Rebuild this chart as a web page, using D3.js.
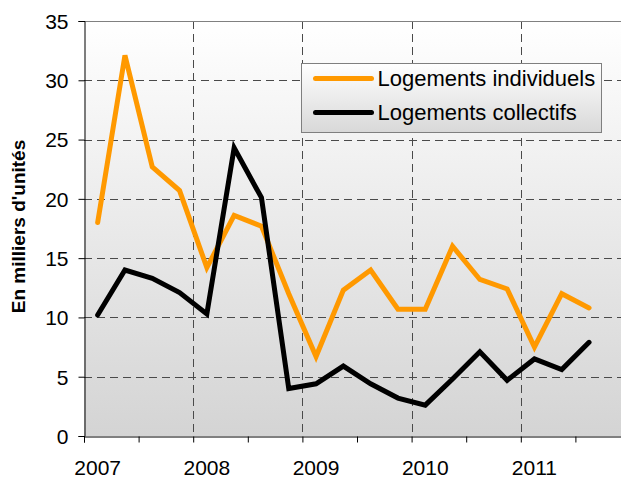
<!DOCTYPE html>
<html>
<head>
<meta charset="utf-8">
<script src="https://cdn.jsdelivr.net/npm/d3@7"></script>
<style>
  body { margin: 0; background: #fff; }
  text { font-family: Arial, "Liberation Sans", sans-serif; fill: #000; }
</style>
</head>
<body>
<div id="chart"></div>
<script>
'use strict';

var quarters = [
  "2007T1", "2007T2", "2007T3", "2007T4",
  "2008T1", "2008T2", "2008T3", "2008T4",
  "2009T1", "2009T2", "2009T3", "2009T4",
  "2010T1", "2010T2", "2010T3", "2010T4",
  "2011T1", "2011T2", "2011T3", "2011T4"
];
var years = ["2007", "2008", "2009", "2010", "2011"];
var individuels = [18.0, 32.1, 22.7, 20.7, 14.2, 18.6, 17.7, 12.0, 6.7, 12.3,
                   14.0, 10.7, 10.7, 16.0, 13.2, 12.4, 7.5, 12.0, 10.8];
var collectifs = [10.2, 14.0, 13.3, 12.1, 10.3, 24.3, 20.1, 4.0, 4.4, 5.9,
                  4.4, 3.2, 2.6, 4.8, 7.1, 4.7, 6.5, 5.6, 7.9];
var yTicks = [0, 5, 10, 15, 20, 25, 30, 35];
var seriesNames = ["Logements individuels", "Logements collectifs"];
var seriesColors = ["#ff9900", "#000000"];

var svgWidth = 621, svgHeight = 479;
var plot = { left: 84, right: 630, top: 21, bottom: 436 };

var svg = d3.select("#chart").append("svg")
  .attr("width", svgWidth)
  .attr("height", svgHeight);

var defs = svg.append("defs");
var bg = defs.append("linearGradient").attr("id", "bg")
  .attr("x1", 0).attr("y1", 0).attr("x2", 0).attr("y2", 1);
bg.append("stop").attr("offset", "0%").attr("stop-color", "#ffffff");
bg.append("stop").attr("offset", "100%").attr("stop-color", "#d4d4d4");

var lg = defs.append("linearGradient").attr("id", "lg")
  .attr("x1", 0).attr("y1", 0).attr("x2", 0).attr("y2", 1);
lg.append("stop").attr("offset", "0%").attr("stop-color", "#ffffff");
lg.append("stop").attr("offset", "100%").attr("stop-color", "#d8d8d8");

var x = d3.scaleBand().domain(quarters).range([plot.left, plot.right]);
var xIdx = d3.scaleLinear().domain([0, quarters.length]).range([plot.left, plot.right]);
var y = d3.scaleLinear().domain([0, 35]).range([plot.bottom, plot.top]);

// plot background
svg.append("rect")
  .attr("x", plot.left).attr("y", plot.top)
  .attr("width", plot.right - plot.left).attr("height", plot.bottom - plot.top)
  .attr("fill", "url(#bg)");

// horizontal grid
svg.append("g").selectAll("line")
  .data(yTicks.filter(function(d) { return d > 0 && d < 35; }))
  .join("line")
  .attr("x1", plot.left).attr("x2", plot.right)
  .attr("y1", function(d) { return Math.round(y(d)) + 0.5; })
  .attr("y2", function(d) { return Math.round(y(d)) + 0.5; })
  .attr("stroke", "#4a4a4a")
  .attr("stroke-dasharray", "8,5");

// vertical grid at year boundaries
svg.append("g").selectAll("line")
  .data([4, 8, 12, 16])
  .join("line")
  .attr("x1", function(d) { return Math.round(xIdx(d)) + 0.5; })
  .attr("x2", function(d) { return Math.round(xIdx(d)) + 0.5; })
  .attr("y1", plot.top).attr("y2", plot.bottom)
  .attr("stroke", "#4a4a4a")
  .attr("stroke-dasharray", "8,5");

// top border
svg.append("line")
  .attr("x1", plot.left).attr("x2", plot.right)
  .attr("y1", plot.top + 0.5).attr("y2", plot.top + 0.5)
  .attr("stroke", "#808080");

// y axis
var yAxisG = svg.append("g")
  .attr("transform", "translate(" + (plot.left + 0.5) + ",0)")
  .call(d3.axisLeft(y).tickValues(yTicks).tickSize(6).tickPadding(10));
yAxisG.select(".domain").attr("stroke", "#000");
yAxisG.selectAll("text")
  .style("font-size", "21px")
  .attr("dy", "0.35em");

// x axis
var xAxisG = svg.append("g")
  .attr("transform", "translate(0," + (plot.bottom + 0.5) + ")")
  .call(d3.axisBottom(xIdx)
    .tickValues(d3.range(0, quarters.length + 1, 2))
    .tickFormat("")
    .tickSize(6));
xAxisG.select(".domain").attr("stroke", "#000");

svg.append("g").selectAll("text")
  .data(years)
  .join("text")
  .attr("x", function(d) { return x(d + "T1") + x.bandwidth() / 2; })
  .attr("y", 475)
  .attr("text-anchor", "middle")
  .style("font-size", "21px")
  .text(function(d) { return d; });

// y title
svg.append("text")
  .attr("transform", "translate(25," + ((plot.top + plot.bottom) / 2 - 2) + ") rotate(-90)")
  .attr("text-anchor", "middle")
  .style("font-size", "19px")
  .style("font-weight", "bold")
  .text("En milliers d'unités");

// series lines
var line = d3.line()
  .x(function(d, i) { return x(quarters[i]) + x.bandwidth() / 2; })
  .y(function(d) { return y(d); });

[individuels, collectifs].forEach(function(values, k) {
  svg.append("path")
    .datum(values)
    .attr("fill", "none")
    .attr("stroke", seriesColors[k])
    .attr("stroke-width", 5)
    .attr("stroke-linecap", "round")
    .attr("stroke-linejoin", "miter")
    .attr("d", line);
});

// legend
var legend = svg.append("g").attr("transform", "translate(301.5,63.5)");
legend.append("rect")
  .attr("width", 300).attr("height", 69)
  .attr("fill", "url(#lg)")
  .attr("stroke", "#7f7f7f");

seriesNames.forEach(function(name, k) {
  var ly = 15 + k * 34;
  legend.append("line")
    .attr("x1", 14).attr("x2", 70)
    .attr("y1", ly).attr("y2", ly)
    .attr("stroke", seriesColors[k])
    .attr("stroke-width", 5)
    .attr("stroke-linecap", "round");
  legend.append("text")
    .attr("x", 76).attr("y", ly)
    .attr("dy", "0.35em")
    .style("font-size", "22px")
    .text(name);
});
</script>
</body>
</html>
